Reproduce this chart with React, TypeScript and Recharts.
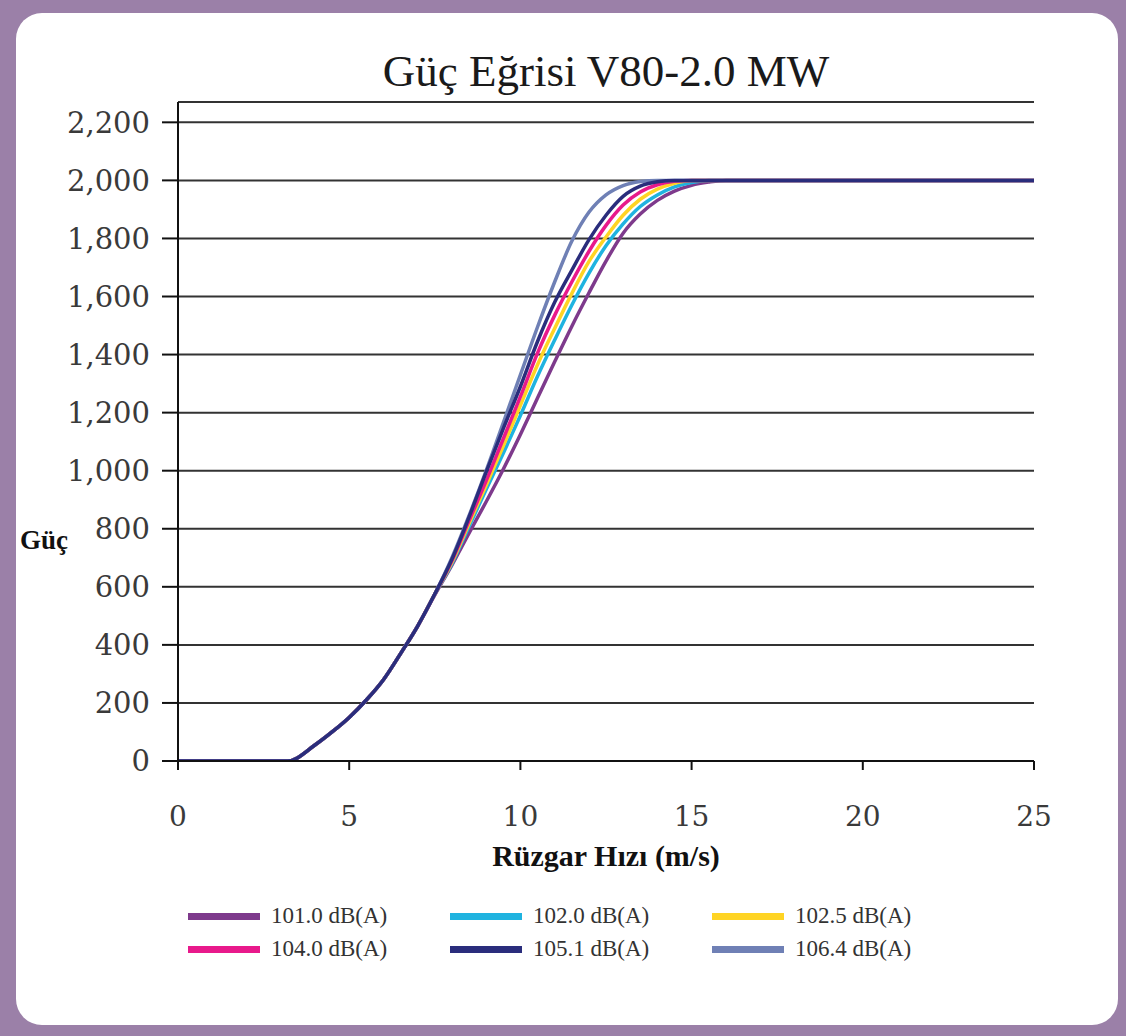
import React from 'react';
import { LineChart, Line, XAxis, YAxis, CartesianGrid, Legend, Label } from 'recharts';

const windSpeeds = [0, 3.2, 4, 4.5, 5, 5.5, 6, 6.5, 7, 7.5, 8, 8.5, 9, 9.5, 10, 10.5, 11, 11.5, 12, 12.5, 13, 13.5, 14, 14.5, 15, 15.5, 16, 17, 20, 25];

const p1010 = [0, 0, 55, 100, 150, 210, 280, 370, 465, 572, 675, 785, 893, 1005, 1125, 1250, 1375, 1497, 1612, 1722, 1818, 1884, 1931, 1963, 1983, 1994, 2000, 2000, 2000, 2000];
const p1020 = [0, 0, 55, 100, 150, 210, 280, 370, 465, 575, 680, 808, 935, 1060, 1190, 1325, 1450, 1570, 1680, 1775, 1850, 1910, 1950, 1978, 1993, 2000, 2000, 2000, 2000, 2000];
const p1025 = [0, 0, 55, 100, 150, 210, 280, 370, 465, 575, 685, 818, 950, 1085, 1225, 1365, 1490, 1610, 1720, 1805, 1880, 1935, 1970, 1990, 2000, 2000, 2000, 2000, 2000, 2000];
const p1040 = [0, 0, 55, 100, 150, 210, 280, 370, 465, 575, 690, 828, 965, 1110, 1255, 1405, 1535, 1650, 1755, 1845, 1915, 1960, 1985, 1997, 2000, 2000, 2000, 2000, 2000, 2000];
const p1051 = [0, 0, 55, 100, 150, 210, 280, 370, 465, 575, 695, 840, 995, 1145, 1290, 1445, 1580, 1690, 1795, 1880, 1945, 1980, 1995, 2000, 2000, 2000, 2000, 2000, 2000, 2000];
const p1064 = [0, 0, 55, 100, 150, 210, 280, 370, 465, 575, 700, 845, 1000, 1165, 1330, 1495, 1650, 1790, 1890, 1950, 1982, 1996, 2000, 2000, 2000, 2000, 2000, 2000, 2000, 2000];

const seriesNames = ['101.0 dB(A)', '102.0 dB(A)', '102.5 dB(A)', '104.0 dB(A)', '105.1 dB(A)', '106.4 dB(A)'];
const seriesKeys = ['s1010', 's1020', 's1025', 's1040', 's1051', 's1064'];
const seriesColors = ['#7E3A8C', '#1FB3E0', '#FFD424', '#E8198B', '#2A2D7C', '#6F80B5'];
const seriesValues = [p1010, p1020, p1025, p1040, p1051, p1064];
const drawOrder = [0, 1, 2, 3, 5, 4];

const xTicks = [0, 5, 10, 15, 20, 25];
const yTicks = [0, 200, 400, 600, 800, 1000, 1200, 1400, 1600, 1800, 2000, 2200];

const data = windSpeeds.map((x, i) => {
  const row: Record<string, number> = { x };
  seriesKeys.forEach((k, j) => {
    row[k] = seriesValues[j][i];
  });
  return row;
});

const fmt = (v: number) => v.toLocaleString('en-US');

const legendColsX = [188, 450, 712];

const LegendContent = () => {
  return (
    <div style={{ position: 'relative', width: 1126, height: 70 }}>
      {seriesNames.map((name, i) => {
        const col = i % 3;
        const row = Math.floor(i / 3);
        return (
          <div
            key={name}
            style={{
              position: 'absolute',
              left: legendColsX[col],
              top: row * 33,
              height: 32,
              display: 'flex',
              alignItems: 'center',
              whiteSpace: 'nowrap',
            }}
          >
            <div style={{ width: 72, height: 7, background: seriesColors[i], marginRight: 11 }} />
            <span style={{ fontFamily: '"Liberation Serif", serif', fontSize: 23, color: '#333' }}>{name}</span>
          </div>
        );
      })}
    </div>
  );
};

export default function App() {
  return (
    <div style={{ position: 'absolute', left: 0, top: 0, width: 1126, height: 1036, background: '#9B80A8', overflow: 'hidden' }}>
      <div style={{ position: 'absolute', left: 16, top: 13, width: 1102, height: 1012, background: '#ffffff', borderRadius: 26 }} />
      <div
        style={{
          position: 'absolute',
          left: 178,
          width: 856,
          top: 46,
          textAlign: 'center',
          fontFamily: '"Liberation Serif", serif',
          fontSize: 45,
          lineHeight: '50px',
          color: '#1a1a1a',
        }}
      >
        Güç Eğrisi V80-2.0 MW
      </div>
      <div style={{ position: 'absolute', left: 0, top: 0 }}>
        <LineChart width={1126} height={1036} data={data} margin={{ top: 102, right: 92, bottom: 0, left: 0 }}>
          <CartesianGrid horizontal={true} vertical={false} stroke="#333" strokeWidth={2} />
          <XAxis
            dataKey="x"
            type="number"
            domain={[0, 25]}
            ticks={xTicks}
            height={275}
            tickSize={9}
            tickMargin={36}
            axisLine={{ stroke: '#111', strokeWidth: 2 }}
            tickLine={{ stroke: '#111', strokeWidth: 2 }}
            tick={{ fontFamily: '"DejaVu Serif", serif', fontSize: 28, fill: '#3a3a3a' }}
          >
            <Label
              value="Rüzgar Hızı (m/s)"
              position="insideTop"
              offset={84}
              style={{ fontFamily: '"Liberation Serif", serif', fontSize: 30, fontWeight: 'bold', fill: '#111' }}
            />
          </XAxis>
          <YAxis
            type="number"
            domain={[0, 2270]}
            ticks={yTicks}
            width={178}
            tickSize={16}
            tickMargin={12}
            tickFormatter={fmt}
            allowDataOverflow={true}
            axisLine={{ stroke: '#111', strokeWidth: 2 }}
            tickLine={{ stroke: '#111', strokeWidth: 2 }}
            tick={{ fontFamily: '"DejaVu Serif", serif', fontSize: 29, fill: '#3a3a3a' }}
          >
            <Label
              value="Güç"
              position="insideLeft"
              offset={20}
              dy={108}
              style={{ fontFamily: '"Liberation Serif", serif', fontSize: 27, fontWeight: 'bold', fill: '#111', textAnchor: 'start' }}
            />
          </YAxis>
          {drawOrder.map((j) => (
            <Line
              key={seriesKeys[j]}
              type="monotone"
              dataKey={seriesKeys[j]}
              name={seriesNames[j]}
              stroke={seriesColors[j]}
              strokeWidth={3.5}
              dot={false}
              activeDot={false}
              isAnimationActive={false}
            />
          ))}
          <Legend
            layout="horizontal"
            verticalAlign="middle"
            content={<LegendContent />}
            wrapperStyle={{ left: 0, top: 900, width: 1126, height: 70 }}
          />
        </LineChart>
      </div>
    </div>
  );
}
